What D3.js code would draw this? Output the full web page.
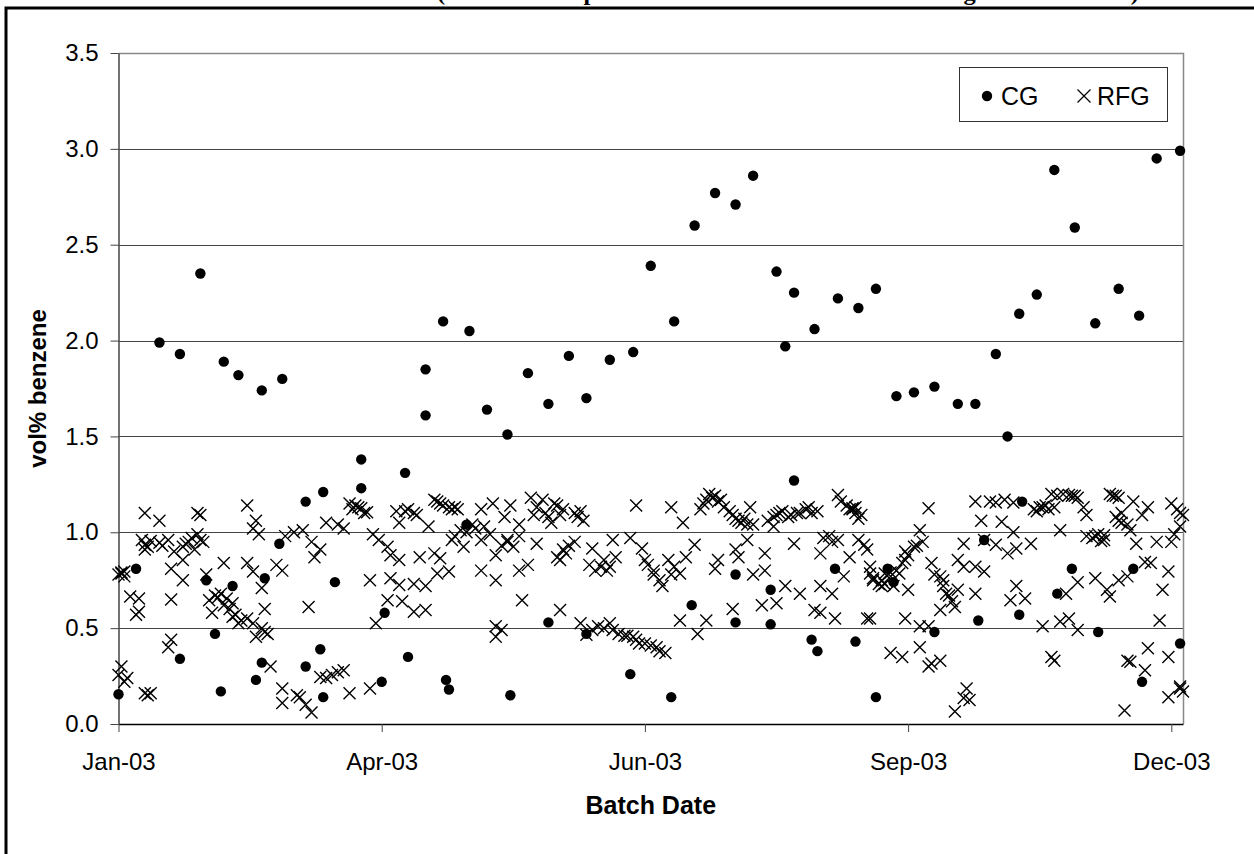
<!DOCTYPE html>
<html>
<head>
<meta charset="utf-8">
<script src="https://cdn.jsdelivr.net/npm/d3@7"></script>
<style>
  body { margin: 0; background: #fff; }
  text { font-family: "Liberation Sans", Arial, sans-serif; }
</style>
</head>
<body>
<svg width="1254" height="854"></svg>
<script>
// batch day of 2003 (0 = Jan 1) and vol% benzene
const cgDay = [0,6,14,21,21,28,30,33,35,36,39,41,47,49,49,50,55,56,64,64,69,70,70,74,83,83,90,91,98,99,105,105,111,112,113,119,120,126,133,134,140,147,147,154,160,160,168,175,176,182,189,190,196,197,204,211,211,211,217,223,223,225,228,231,231,237,238,239,245,246,252,253,259,259,263,265,266,272,279,279,287,293,294,296,300,304,308,308,309,314,320,321,326,327,334,335,342,347,349,350,355,363,363];
const cgVol = [0.155,0.81,1.99,0.34,1.93,2.35,0.75,0.47,0.17,1.89,0.72,1.82,0.23,1.74,0.32,0.76,0.94,1.80,1.16,0.30,0.39,1.21,0.14,0.74,1.38,1.23,0.22,0.58,1.31,0.35,1.85,1.61,2.10,0.23,0.18,1.04,2.05,1.64,1.51,0.15,1.83,1.67,0.53,1.92,0.47,1.70,1.90,0.26,1.94,2.39,0.14,2.10,0.62,2.60,2.77,0.78,0.53,2.71,2.86,0.70,0.52,2.36,1.97,2.25,1.27,0.44,2.06,0.38,0.81,2.22,0.43,2.17,2.27,0.14,0.81,0.74,1.71,1.73,0.48,1.76,1.67,1.67,0.54,0.96,1.93,1.50,2.14,0.57,1.16,2.24,2.89,0.68,0.81,2.59,2.09,0.48,2.27,0.81,2.13,0.22,2.95,2.99,0.42];

const rfgDay = [9,14,27,28,44,47,79,81,83,84,98,101,108,110,113,116,124,128,
  8,10,14,17,22,24,27,29,46,48,57,60,63,66,71,75,77,87,89,92,96,106,114,117,121,124,127,
  9,19,22,26,67,69,93,96,103,108,110,118,129,
  1,2,18,22,30,36,44,46,54,56,49,86,93,96,101,105,109,113,124,129,
  4,7,6,7,18,31,35,37,39,32,39,41,44,46,50,65,92,97,101,105,88,
  47,51,17,18,52,56,61,69,73,77,79,86,1,0,3,9,11,129,129,
  2,56,62,64,66,286,289,290,291,344,359,363,364,
  134,132,141,145,142,149,152,147,158,159,148,137,177,189,193,199,202,204,206,209,211,213,216,217,224,226,229,232,236,239,246,250,252,253,224,
  133,135,137,143,151,153,156,162,166,163,168,170,169,175,179,180,183,186,188,192,194,197,205,204,211,212,215,221,217,221,231,240,243,246,250,253,256,257,260,264,248,137,140,
  138,151,131,158,160,164,168,171,176,178,182,184,187,192,198,201,210,220,225,228,233,240,244,238,240,245,256,264,
  293,298,300,303,306,319,325,327,330,340,342,347,352,360,364,316,318,314,277,251,331,343,350,342,295,302,306,
  255,274,275,269,272,269,289,296,300,304,307,312,322,331,334,336,337,346,348,355,360,361,363,257,262,267,278,281,287,289,293,296,351,353,359,
  258,261,270,282,284,287,293,286,281,307,305,310,324,328,334,338,339,342,345,357,257,269,274,277,316,322,325,328,356,
  268,274,277,278,281,319,320,346,351,352,359,363,
  0,1,2, 33,34,36,38,40,42, 49,50,71,75, 80,82,85, 109,111,114,115, 115,119,122,125,
  95,99,102, 9,11,15,23,25,28, 143,146,150,151,156,157, 200,201,203,205,207,
  210,212,214,215, 222,225,227,230,233,235,237, 247,249,251, 131,133,150,152,154,
  161,165,167, 181,183,185,189,190, 162,166,169,173,174,177,180,185,
  241,244,258,261,262,265, 252,254,264,266,268,270,273, 279,282,283,285,
  313,315,317,320,321,323,326,328, 333,335,337,339,341, 341,343,345,362,363, 345,10];
const rfgVol = [1.10,1.06,1.10,1.09,1.14,1.06,1.15,1.14,1.125,1.10,1.11,1.10,1.17,1.15,1.13,1.12,1.12,1.15,
  0.96,0.925,0.945,0.96,0.925,0.95,0.99,0.95,1.02,0.99,0.98,1.00,1.01,0.95,1.05,1.04,1.02,0.99,0.96,0.925,1.05,1.03,0.96,1.01,1.04,0.96,0.99,
  0.91,0.90,0.855,0.91,0.87,0.91,0.88,0.855,0.87,0.89,0.865,0.925,0.88,
  0.785,0.795,0.81,0.75,0.78,0.84,0.84,0.795,0.83,0.80,0.71,0.75,0.76,0.725,0.73,0.72,0.785,0.795,0.80,0.75,
  0.665,0.655,0.57,0.585,0.65,0.645,0.68,0.655,0.63,0.58,0.56,0.525,0.55,0.525,0.60,0.61,0.645,0.64,0.585,0.595,0.525,
  0.455,0.47,0.40,0.44,0.30,0.185,0.15,0.245,0.255,0.28,0.16,0.185,0.30,0.255,0.24,0.16,0.16,0.455,0.51,
  0.22,0.11,0.14,0.10,0.06,0.065,0.135,0.185,0.125,0.07,0.14,0.185,0.17,
  1.14,1.08,1.18,1.17,1.09,1.15,1.12,1.08,1.11,1.06,1.05,1.04,1.14,1.13,1.05,1.12,1.20,1.19,1.17,1.11,1.07,1.05,1.13,1.04,1.08,1.10,1.08,1.10,1.13,1.11,1.195,1.12,1.13,1.07,1.03,
  0.95,0.925,0.98,0.94,0.855,0.89,0.95,0.915,0.855,0.80,0.82,0.87,0.96,0.97,0.915,0.855,0.80,0.72,0.855,0.785,0.87,0.935,0.855,0.81,0.91,0.87,0.96,0.89,0.78,0.80,0.94,0.89,0.98,0.96,0.87,0.96,0.91,0.785,0.73,0.77,0.77,0.80,0.83,
  0.645,0.595,0.49,0.525,0.465,0.51,0.525,0.47,0.455,0.42,0.41,0.40,0.37,0.54,0.47,0.54,0.60,0.62,0.63,0.72,0.68,0.72,0.68,0.595,0.58,0.55,0.55,0.37,
  1.16,1.16,1.155,1.17,1.155,1.20,1.195,1.19,1.13,1.19,1.18,1.16,1.13,1.15,1.09,1.13,1.12,1.11,1.125,1.125,1.09,1.10,1.09,1.06,1.06,1.055,1.00,
  0.935,1.01,0.95,0.90,0.925,0.855,0.94,0.96,0.935,0.89,0.915,0.94,1.01,0.98,0.98,0.955,0.985,1.01,0.94,0.95,0.95,0.99,1.03,0.82,0.785,0.785,0.84,0.77,0.855,0.82,0.82,0.795,0.845,0.84,0.795,
  0.75,0.72,0.70,0.75,0.67,0.70,0.68,0.61,0.595,0.72,0.645,0.655,0.68,0.74,0.76,0.70,0.665,0.75,0.77,0.70,0.55,0.55,0.51,0.51,0.51,0.535,0.55,0.49,0.54,
  0.35,0.40,0.30,0.315,0.33,0.35,0.33,0.325,0.28,0.395,0.35,0.195,
  0.78,0.79,0.77, 0.67,0.66,0.62,0.60,0.57,0.54, 0.50,0.48,0.24,0.27, 1.12,1.13,1.105, 1.16,1.14,1.12,1.13, 0.98,1.00,1.02,1.03,
  1.11,1.12,1.09, 0.935,0.955,0.93,0.94,0.97,0.96, 1.13,1.10,1.14,1.09,1.10,1.08, 1.15,1.17,1.18,1.16,1.13,
  1.09,1.06,1.07,1.04, 1.06,1.09,1.11,1.09,1.10,1.12,1.10, 1.16,1.14,1.12, 0.93,0.96,0.87,0.91,0.93,
  0.83,0.82,0.80, 0.83,0.78,0.75,0.78,0.82, 0.49,0.50,0.49,0.46,0.46,0.44,0.42,0.38,
  0.97,0.95,0.76,0.75,0.73,0.72, 1.10,1.09,0.79,0.80,0.84,0.88,0.93, 0.78,0.72,0.68,0.64,
  1.12,1.13,1.14,1.13,1.19,1.20,1.19,1.18, 0.97,0.99,0.96,1.20,1.19, 1.08,1.05,1.04,1.12,1.10, 0.33,0.15];

const yTicks = [0, 0.5, 1.0, 1.5, 2.0, 2.5, 3.0, 3.5];
const xTickDays = [0, 90, 180, 270, 360];
const seriesNames = ["CG", "RFG"];

const svg = d3.select("svg");
const margin = { left: 118.5, right: 1183, top: 53, bottom: 724 };

const start = new Date(Date.UTC(2003, 0, 1));
const toDate = (d) => d3.utcDay.offset(start, d);

const x = d3.scaleUtc()
  .domain([start, toDate(364)])
  .range([margin.left, margin.right]);
const y = d3.scaleLinear()
  .domain([0, 3.5])
  .range([margin.bottom, margin.top]);

// outer frame of the page (only top and left edges are visible)
svg.append("rect")
  .attr("x", 6).attr("y", 8)
  .attr("width", 1300).attr("height", 900)
  .attr("fill", "none").attr("stroke", "#000").attr("stroke-width", 3);

// title, cut off above the frame: only descenders show
svg.append("text")
  .attr("x", 437).attr("y", 0)
  .attr("textLength", 702)
  .attr("lengthAdjust", "spacingAndGlyphs")
  .style("font-family", "'Liberation Serif', 'Times New Roman', serif")
  .style("font-weight", "bold")
  .style("font-size", "24px")
  .text("(Batch values presented for all CG and RFG averaged at each date)");

// gridlines
svg.append("g")
  .selectAll("line")
  .data(yTicks.filter((d) => d > 0 && d < 3.5))
  .enter()
  .append("line")
  .attr("x1", margin.left).attr("x2", margin.right)
  .attr("y1", (d) => Math.round(y(d)) + 0.5)
  .attr("y2", (d) => Math.round(y(d)) + 0.5)
  .attr("stroke", "#444").attr("stroke-width", 1);

// plot border top/right
svg.append("path")
  .attr("d", `M${margin.left},${margin.top + 0.5}H${margin.right + 0.5}V${margin.bottom}`)
  .attr("fill", "none").attr("stroke", "#888").attr("stroke-width", 1.5);

// axes
const yAxis = svg.append("g")
  .attr("transform", `translate(${margin.left},0)`)
  .call(d3.axisLeft(y).tickValues(yTicks).tickSize(8).tickSizeOuter(0)
    .tickPadding(12).tickFormat(d3.format(".1f")));
yAxis.select(".domain").attr("stroke", "#444").attr("stroke-width", 1.5);
yAxis.selectAll(".tick line").attr("stroke", "#444");
yAxis.selectAll("text").style("font-size", "24px").attr("fill", "#000");

const xAxis = svg.append("g")
  .attr("transform", `translate(0,${margin.bottom})`)
  .call(d3.axisBottom(x).tickValues(xTickDays.map(toDate)).tickSize(8).tickSizeOuter(0)
    .tickPadding(21).tickFormat(d3.utcFormat("%b-%y")));
xAxis.select(".domain").attr("stroke", "#000").attr("stroke-width", 1.5);
xAxis.selectAll(".tick line").attr("stroke", "#444");
xAxis.selectAll("text").style("font-size", "24px").attr("fill", "#000");

// axis titles
svg.append("text")
  .attr("x", (margin.left + margin.right) / 2).attr("y", 814)
  .attr("text-anchor", "middle")
  .style("font-size", "25px").style("font-weight", "bold")
  .text("Batch Date");
svg.append("text")
  .attr("transform", `translate(46,${(margin.top + margin.bottom) / 2}) rotate(-90)`)
  .attr("text-anchor", "middle")
  .style("font-size", "24px").style("font-weight", "bold")
  .text("vol% benzene");

// RFG crosses
const xMark = (s) => `M${-s},${-s}L${s},${s}M${-s},${s}L${s},${-s}`;
const rfg = rfgDay.map((d, i) => ({ day: d, v: rfgVol[i] }));
svg.append("g")
  .selectAll("path")
  .data(rfg)
  .enter()
  .append("path")
  .attr("transform", (d) => `translate(${x(toDate(d.day))},${y(d.v)})`)
  .attr("d", xMark(6))
  .attr("fill", "none").attr("stroke", "#000").attr("stroke-width", 1.4);

// CG dots
const cg = cgDay.map((d, i) => ({ day: d, v: cgVol[i] }));
svg.append("g")
  .selectAll("circle")
  .data(cg)
  .enter()
  .append("circle")
  .attr("cx", (d) => x(toDate(d.day)))
  .attr("cy", (d) => y(d.v))
  .attr("r", 5.2)
  .attr("fill", "#000");

// legend
const lg = svg.append("g");
lg.append("rect")
  .attr("x", 959.5).attr("y", 67.5).attr("width", 208).attr("height", 54)
  .attr("fill", "#fff").attr("stroke", "#333").attr("stroke-width", 1);
lg.append("circle").attr("cx", 987).attr("cy", 96).attr("r", 5.2).attr("fill", "#000");
lg.append("path").attr("transform", "translate(1084,96)").attr("d", xMark(6.5))
  .attr("fill", "none").attr("stroke", "#000").attr("stroke-width", 1.2);
lg.selectAll("text.lab")
  .data(seriesNames)
  .enter()
  .append("text")
  .attr("class", "lab")
  .attr("x", (d, i) => (i === 0 ? 1001 : 1097))
  .attr("y", 105)
  .style("font-size", "25px")
  .text((d) => d);
</script>
</body>
</html>
